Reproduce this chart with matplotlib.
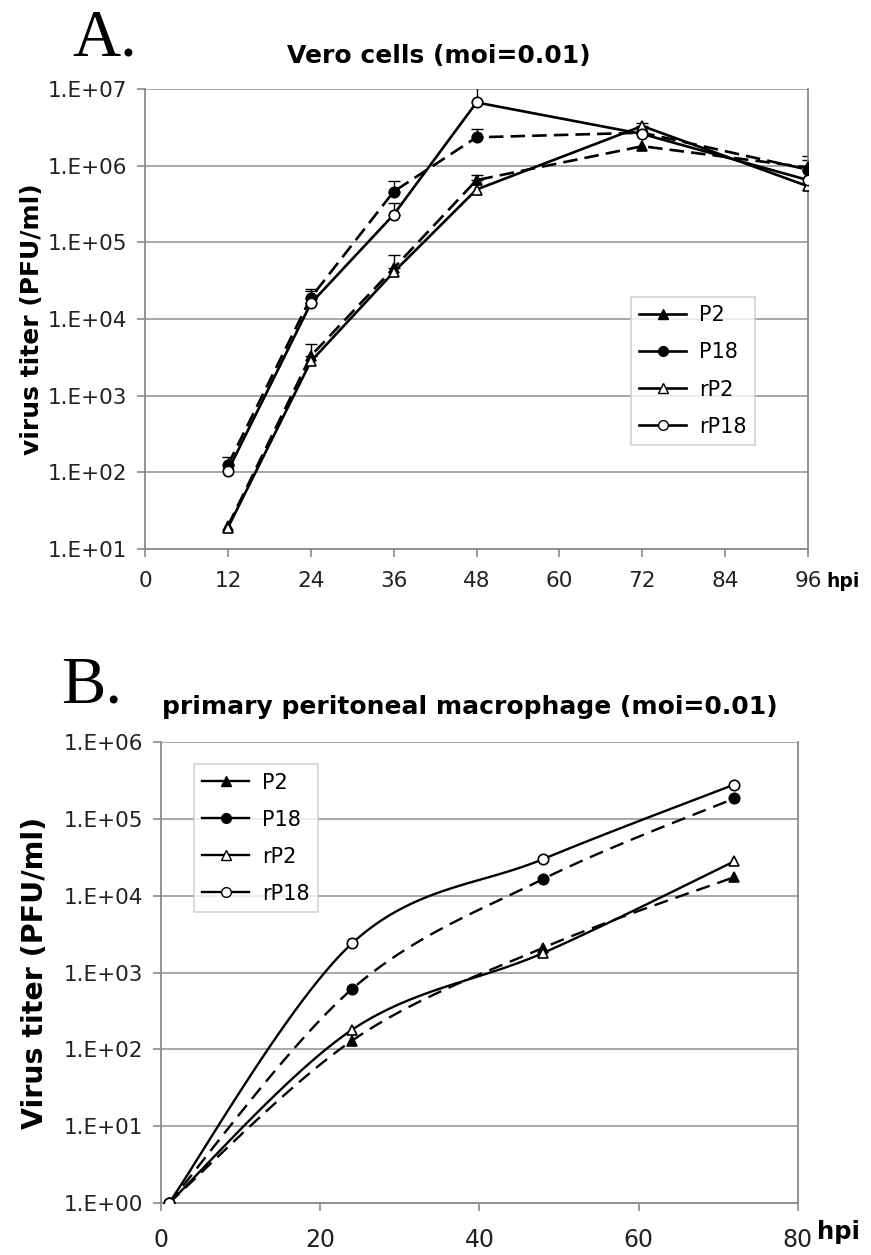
import numpy as np
import matplotlib
matplotlib.use("Agg")
import matplotlib.pyplot as plt
from matplotlib.lines import Line2D

plt.rcParams['font.family'] = ['DejaVu Sans']

# ---------------- Data ----------------
seriesNames = ["P2", "P18", "rP2", "rP18"]

# Panel A: Vero cells
hpiA = [12, 24, 36, 48, 72, 96]
P2_A = [20, 3300, 46000, 650000, 1.8e6, 9.5e5]
P18_A = [125, 19000, 4.6e5, 2.35e6, 2.7e6, 8.9e5]
rP2_A = [19, 2800, 4.1e4, 4.9e5, 3.3e6, 5.4e5]
rP18_A = [105, 16000, 2.3e5, 6.7e6, 2.6e6, 6.5e5]
# upper error bar sizes
P2_A_err = [0, 1400, 22000, 100000, 0, 400000]
P18_A_err = [35, 6000, 170000, 650000, 0, 300000]
rP2_A_err = [0, 0, 0, 0, 300000, 0]
rP18_A_err = [0, 7000, 100000, 4.3e6, 0, 0]

# Panel B: primary peritoneal macrophage
hpiB = [1, 24, 48, 72]
P2_B = [1, 130, 2100, 1.75e4]
P18_B = [1, 610, 1.65e4, 1.85e5]
rP2_B = [1, 180, 1800, 2.8e4]
rP18_B = [1, 2400, 3.0e4, 2.8e5]

xticksA = [0, 12, 24, 36, 48, 60, 72, 84, 96]
yticksA = [1e1, 1e2, 1e3, 1e4, 1e5, 1e6, 1e7]
yticklabelsA = ["1.E+01", "1.E+02", "1.E+03", "1.E+04", "1.E+05", "1.E+06", "1.E+07"]
xticksB = [0, 20, 40, 60, 80]
yticksB = [1e0, 1e1, 1e2, 1e3, 1e4, 1e5, 1e6]
yticklabelsB = ["1.E+00", "1.E+01", "1.E+02", "1.E+03", "1.E+04", "1.E+05", "1.E+06"]

# ---------------- Styles ----------------
styles = {
    "P2":   dict(marker="^", mfc="black", dashed=True),
    "P18":  dict(marker="o", mfc="black", dashed=True),
    "rP2":  dict(marker="^", mfc="white", dashed=False),
    "rP18": dict(marker="o", mfc="white", dashed=False),
}
GRID = "#a0a0a0"
SPINE = "#8a8a8a"

fig = plt.figure(figsize=(8.71, 12.55), dpi=100)

def style_axes(ax, xticks, yticks, ylabels, xlim, ylim, tick_fs, xtick_fs, xpad):
    ax.set_yscale("log")
    ax.set_xlim(*xlim)
    ax.set_ylim(*ylim)
    ax.set_xticks(xticks)
    ax.set_xticklabels([str(t) for t in xticks], fontsize=xtick_fs, color="#222222")
    ax.set_yticks(yticks)
    ax.set_yticklabels(ylabels, fontsize=tick_fs, color="#222222")
    ax.yaxis.set_minor_locator(matplotlib.ticker.NullLocator())
    for yv in yticks:
        ax.axhline(yv, color=GRID, lw=1.3, zorder=0)
    for s in ["left", "bottom", "right"]:
        ax.spines[s].set_color(SPINE)
        ax.spines[s].set_linewidth(1.3)
    ax.spines["top"].set_visible(False)
    ax.tick_params(axis="both", direction="out", color=SPINE, width=1.2, length=6)
    ax.tick_params(axis="y", pad=7)
    ax.tick_params(axis="x", pad=xpad)

def legend_handles(lw, ms):
    hs = []
    for n in seriesNames:
        st = styles[n]
        hs.append(Line2D([], [], color="black", lw=lw, marker=st["marker"],
                         mfc=st["mfc"], mec="black", ms=ms, ls="-"))
    return hs

leg_kw = dict(loc="upper left", fontsize=15, frameon=True, fancybox=False,
              edgecolor="#c8c8c8", handlelength=2.25, handletextpad=0.6,
              borderpad=0.4, labelspacing=0.82, borderaxespad=0)

# ---------------- Panel A ----------------
axA = fig.add_axes([0.1665, 0.5625, 0.7612, 0.3665])
style_axes(axA, xticksA, yticksA, yticklabelsA, (0, 96), (1e1, 1e7), 15.5, 15.5, 10)
dataA = {"P2": (P2_A, P2_A_err), "P18": (P18_A, P18_A_err),
         "rP2": (rP2_A, rP2_A_err), "rP18": (rP18_A, rP18_A_err)}
for n in seriesNames:
    vals, err = dataA[n]
    st = styles[n]
    vals = np.array(vals, dtype=float)
    err = np.array(err, dtype=float)
    mask = err > 0
    if mask.any():
        axA.errorbar(np.array(hpiA)[mask], vals[mask],
                     yerr=[np.zeros(mask.sum()), err[mask]],
                     fmt="none", ecolor="black", elinewidth=1.0, capsize=4,
                     capthick=1.0, zorder=2)
    axA.plot(hpiA, vals, color="black", lw=1.9,
             ls=(0, (5.5, 2.7)) if st["dashed"] else "-", marker=st["marker"],
             mfc=st["mfc"], mec="black", ms=7.5, mew=1.2, zorder=3)
axA.set_ylabel("virus titer (PFU/ml)", fontsize=18, fontweight="bold")
axA.yaxis.set_label_coords(-0.152, 0.5)
axA.text(0.443, 1.073, "Vero cells (moi=0.01)", transform=axA.transAxes,
         fontsize=18, fontweight="bold", ha="center", va="center")
axA.text(1.028, -0.07, "hpi", transform=axA.transAxes, fontsize=13.5,
         fontweight="bold", ha="left", va="center")
legA = axA.legend(handles=legend_handles(1.9, 7), labels=seriesNames,
                  bbox_to_anchor=(0.733, 0.548), **leg_kw)
legA.get_frame().set_linewidth(1.2)
fig.text(0.083, 0.956, "A.", fontsize=48, family="Liberation Serif",
         va="baseline", ha="left")

# ---------------- Panel B ----------------
axB = fig.add_axes([0.1848, 0.0414, 0.7313, 0.3673])
style_axes(axB, xticksB, yticksB, yticklabelsB, (0, 80), (1e0, 1e6), 15.5, 17, 12)

def catmull_rom(ax, xs, ys, n=40):
    # smooth curve through the data points computed in display space
    pts = ax.transData.transform(np.column_stack([xs, ys]))
    P = np.vstack([pts[0], pts, pts[-1]])
    out = []
    for i in range(1, len(P) - 2):
        p0, p1, p2, p3 = P[i - 1], P[i], P[i + 1], P[i + 2]
        c1 = p1 + (p2 - p0) / 6.0
        c2 = p2 - (p3 - p1) / 6.0
        t = np.linspace(0, 1, n)[:, None]
        seg = ((1 - t) ** 3) * p1 + 3 * ((1 - t) ** 2) * t * c1 + 3 * (1 - t) * t ** 2 * c2 + t ** 3 * p2
        out.append(seg if i == 1 else seg[1:])
    out = np.vstack(out)
    return ax.transData.inverted().transform(out)

dataB = {"P2": P2_B, "P18": P18_B, "rP2": rP2_B, "rP18": rP18_B}
for n in seriesNames:
    st = styles[n]
    curve = catmull_rom(axB, hpiB, dataB[n])
    axB.plot(curve[:, 0], curve[:, 1], color="black", lw=1.7,
             ls=(0, (6.0, 3.4)) if st["dashed"] else "-", zorder=3)
    axB.plot(hpiB, dataB[n], ls="none", marker=st["marker"], mfc=st["mfc"],
             mec="black", ms=7.5, mew=1.2, zorder=4)
axB.set_ylabel("Virus titer (PFU/ml)", fontsize=20.5, fontweight="bold")
axB.yaxis.set_label_coords(-0.176, 0.5)
axB.text(0.485, 1.077, "primary peritoneal macrophage (moi=0.01)",
         transform=axB.transAxes, fontsize=18, fontweight="bold",
         ha="center", va="center")
axB.text(1.03, -0.063, "hpi", transform=axB.transAxes, fontsize=17.5,
         fontweight="bold", ha="left", va="center")
legB = axB.legend(handles=legend_handles(1.7, 7), labels=seriesNames,
                  bbox_to_anchor=(0.052, 0.952), **leg_kw)
legB.get_frame().set_linewidth(1.2)
fig.text(0.07, 0.440, "B.", fontsize=48, family="Liberation Serif",
         va="baseline", ha="left")

fig.savefig("out.png", dpi=100)
